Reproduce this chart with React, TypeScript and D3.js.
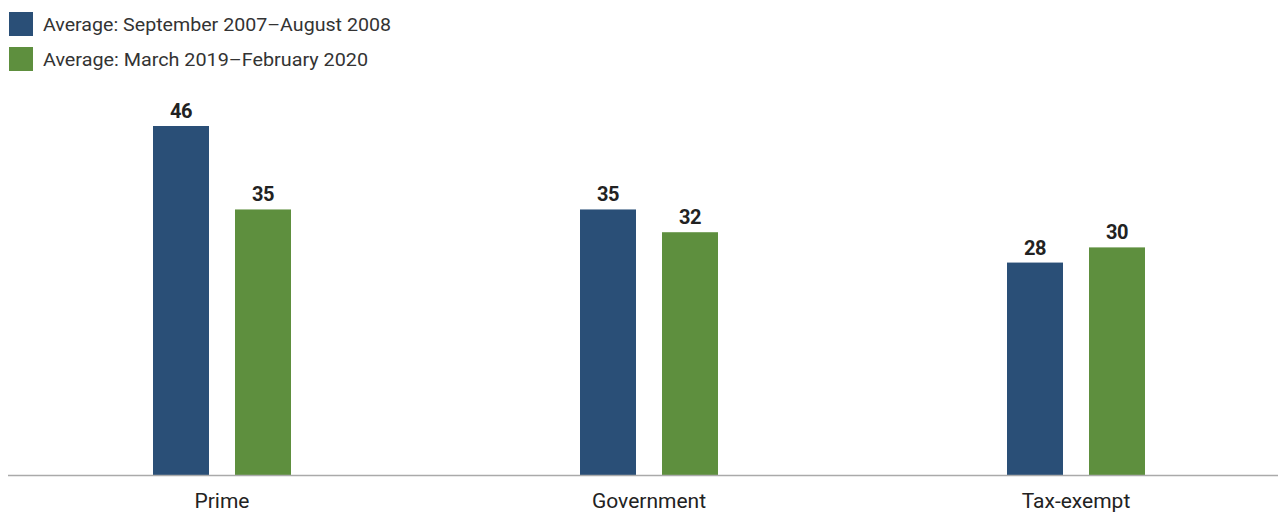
import React from "react";
import * as d3 from "d3";

const categories = ["Prime", "Government", "Tax-exempt"];
const seriesNames = ["Average: September 2007–August 2008", "Average: March 2019–February 2020"];
const series2008 = [46, 35, 28];
const series2020 = [35, 32, 30];
const colors = ["#2a4f77", "#5e8f3e"];

const W = 1278;
const H = 512;
const FONT = "Roboto, 'Noto Sans', sans-serif";

export default function App() {
  const x = d3.scaleBand<string>().domain(categories).range([8.5, 1289.5]).padding(0);
  const y = d3.scaleLinear().domain([0, 46]).range([475, 126]);
  const barW = 56;
  const gap = 26;
  const values = [series2008, series2020];

  return (
    <svg width={W} height={H} style={{ position: "absolute", left: 0, top: 0 }} fontFamily={FONT}>
      {seriesNames.map((name, i) => (
        <g key={name}>
          <rect x={9} y={12 + i * 35} width={24} height={24} fill={colors[i]} />
          <text x={43} y={31 + i * 35} fontSize={18} fill="#333" textLength={i === 0 ? 348 : 325} lengthAdjust="spacingAndGlyphs">
            {name}
          </text>
        </g>
      ))}
      {categories.map((c, ci) => {
        const cx = (x(c) as number) + x.bandwidth() / 2;
        return (
          <g key={c}>
            {values.map((vals, si) => {
              const bx = si === 0 ? cx - gap / 2 - barW : cx + gap / 2;
              const v = vals[ci];
              return (
                <g key={si}>
                  <rect x={bx} y={y(v)} width={barW} height={y(0) - y(v)} fill={colors[si]} />
                  <text x={bx + barW / 2} y={y(v) - 8} textAnchor="middle" fontSize={20} fontWeight="bold" fill="#222" style={{ letterSpacing: "-0.5px" }}>
                    {v}
                  </text>
                </g>
              );
            })}
            <text x={cx} y={508} textAnchor="middle" fontSize={21} fill="#222">
              {c}
            </text>
          </g>
        );
      })}
      <line x1={8} x2={W} y1={y(0) + 0.5} y2={y(0) + 0.5} stroke="#aaa" strokeWidth={1.5} />
    </svg>
  );
}
